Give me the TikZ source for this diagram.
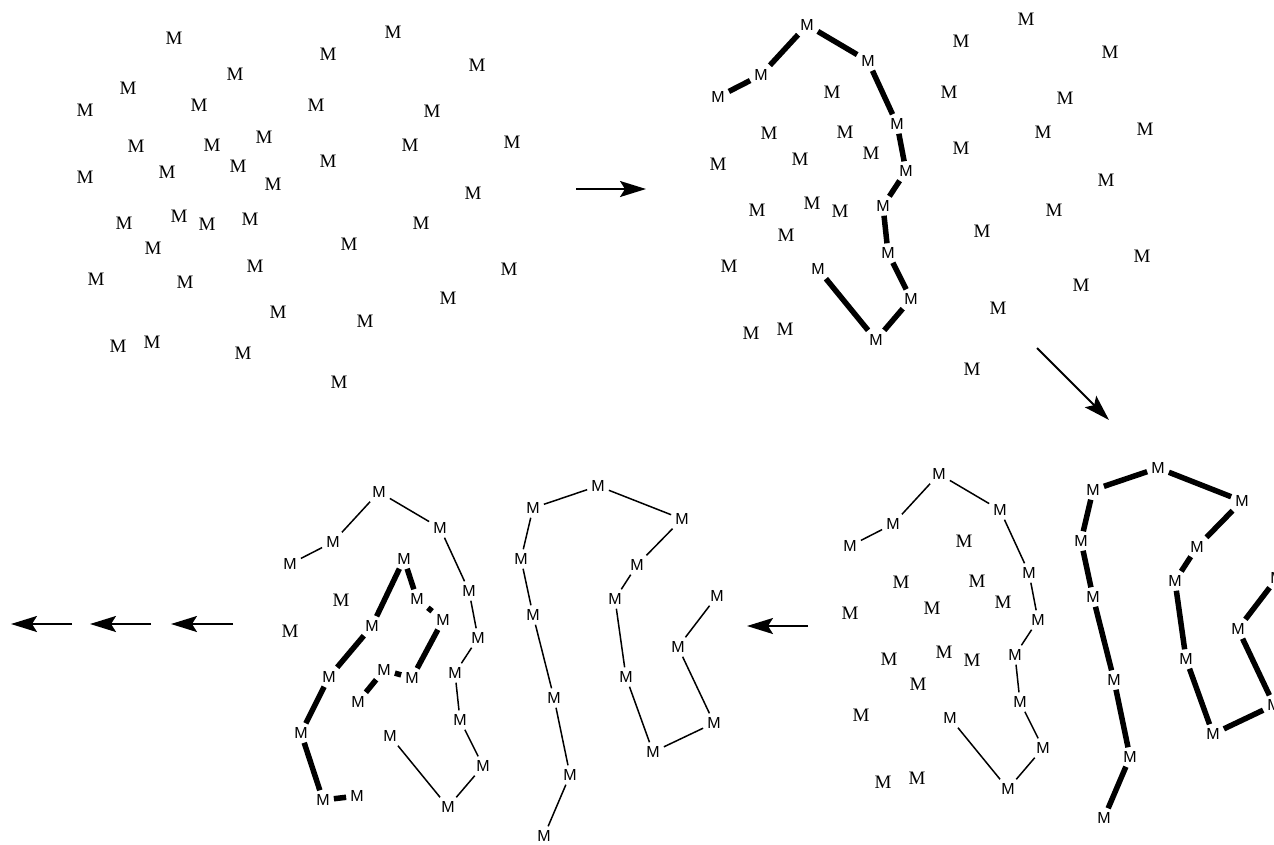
\documentclass[tikz,border=0pt]{standalone}
\usepackage{fontspec}
\newfontfamily\serifM{Liberation Serif}
\newfontfamily\sansM{Liberation Sans}
\usetikzlibrary{arrows.meta}

\tikzset{
  dot/.style={font=\serifM\fontsize{19}{19}\selectfont, inner sep=4pt},
  lab/.style={font=\sansM\fontsize{16}{16}\selectfont, inner sep=4pt},
  thinlink/.style={line width=1.5pt},
  thicklink/.style={line width=5.5pt},
  flow/.style={line width=2pt, -{Stealth[length=26pt,width=16pt,inset=5pt]}}
}

% base point set (index/x/y), grouped by the chain each point ends up in
\def\chainA{1/174/38,5/235/74,6/128/88,7/85/110,13/264/137,20/273/184,25/250/219,30/185/282,31/255/266,34/278/312,38/243/353}
\def\chainB{2/393/32,3/328/54,4/477/65,9/316/105,10/432/111,14/410/145,15/512/142,19/328/161,21/473/193,26/421/223,28/349/244,32/509/269,33/448/298,35/365/321,39/339/382}
\def\chainC{8/199/105,12/212/145,17/167/172,18/238/166,22/124/223,23/179/216,24/207/224,27/153/248,29/96/279,36/118/346,37/152/342}
\def\loosepts{11/136/146,16/85/177}

\newcommand\placeM[2]{\foreach \i/\x/\y in #2 {\node[#1] (n\i) at (\x,\y) {M};}}
\newcommand\linkA[1]{\draw[#1] (n7) -- (n6) -- (n1) -- (n5) -- (n13) -- (n20) -- (n25) -- (n31) -- (n34) -- (n38) -- (n30);}
\newcommand\linkB[1]{\draw[#1] (n39) -- (n35) -- (n28) -- (n19) -- (n9) -- (n3) -- (n2) -- (n4) -- (n10) -- (n14) -- (n26) -- (n33) -- (n32) -- (n21) -- (n15);}
\newcommand\linkC[1]{\draw[#1] (n27) -- (n23) -- (n24) -- (n18) -- (n12) -- (n8) -- (n17) -- (n22) -- (n29) -- (n36) -- (n37);}

\begin{document}
\begin{tikzpicture}[x=1pt,y=-1pt]
\useasboundingbox (0,0) rectangle (1274,844);
\clip (0,0) rectangle (1274,844);

% stage 1: loose points
\begin{scope}[name prefix=s1-]
  \placeM{dot}{\chainA}
  \placeM{dot}{\chainB}
  \placeM{dot}{\chainC}
  \placeM{dot}{\loosepts}
\end{scope}

% stage 2: first chain found
\begin{scope}[shift={(633,-13)}, name prefix=s2-]
  \placeM{lab}{\chainA}
  \placeM{dot}{\chainB}
  \placeM{dot}{\chainC}
  \placeM{dot}{\loosepts}
  \linkA{thicklink}
\end{scope}

% stage 3: second chain found
\begin{scope}[shift={(765,436)}, name prefix=s3-]
  \placeM{lab}{\chainA}
  \placeM{lab}{\chainB}
  \placeM{dot}{\chainC}
  \placeM{dot}{\loosepts}
  \linkA{thinlink}
  \linkB{thicklink}
\end{scope}

% stage 4: third chain found
\begin{scope}[shift={(205,454)}, name prefix=s4-]
  \placeM{lab}{\chainA}
  \placeM{lab}{\chainB}
  \placeM{lab}{\chainC}
  \placeM{dot}{\loosepts}
  \linkA{thinlink}
  \linkB{thinlink}
  \linkC{thicklink}
\end{scope}

% flow arrows between stages
\coordinate (a1s) at (576,189); \coordinate (a1e) at (646,189);
\coordinate (a2s) at (1037,348); \coordinate (a2e) at (1109,420);
\coordinate (a3s) at (808,626); \coordinate (a3e) at (747,626);
\coordinate (a4s) at (233,624); \coordinate (a4e) at (171,624);
\coordinate (a5s) at (151,624); \coordinate (a5e) at (90,624);
\coordinate (a6s) at (72,624);  \coordinate (a6e) at (11,624);
\draw[flow] (a1s) -- (a1e);
\draw[flow] (a2s) -- (a2e);
\draw[flow] (a3s) -- (a3e);
\draw[flow] (a4s) -- (a4e);
\draw[flow] (a5s) -- (a5e);
\draw[flow] (a6s) -- (a6e);
\end{tikzpicture}
\end{document}
